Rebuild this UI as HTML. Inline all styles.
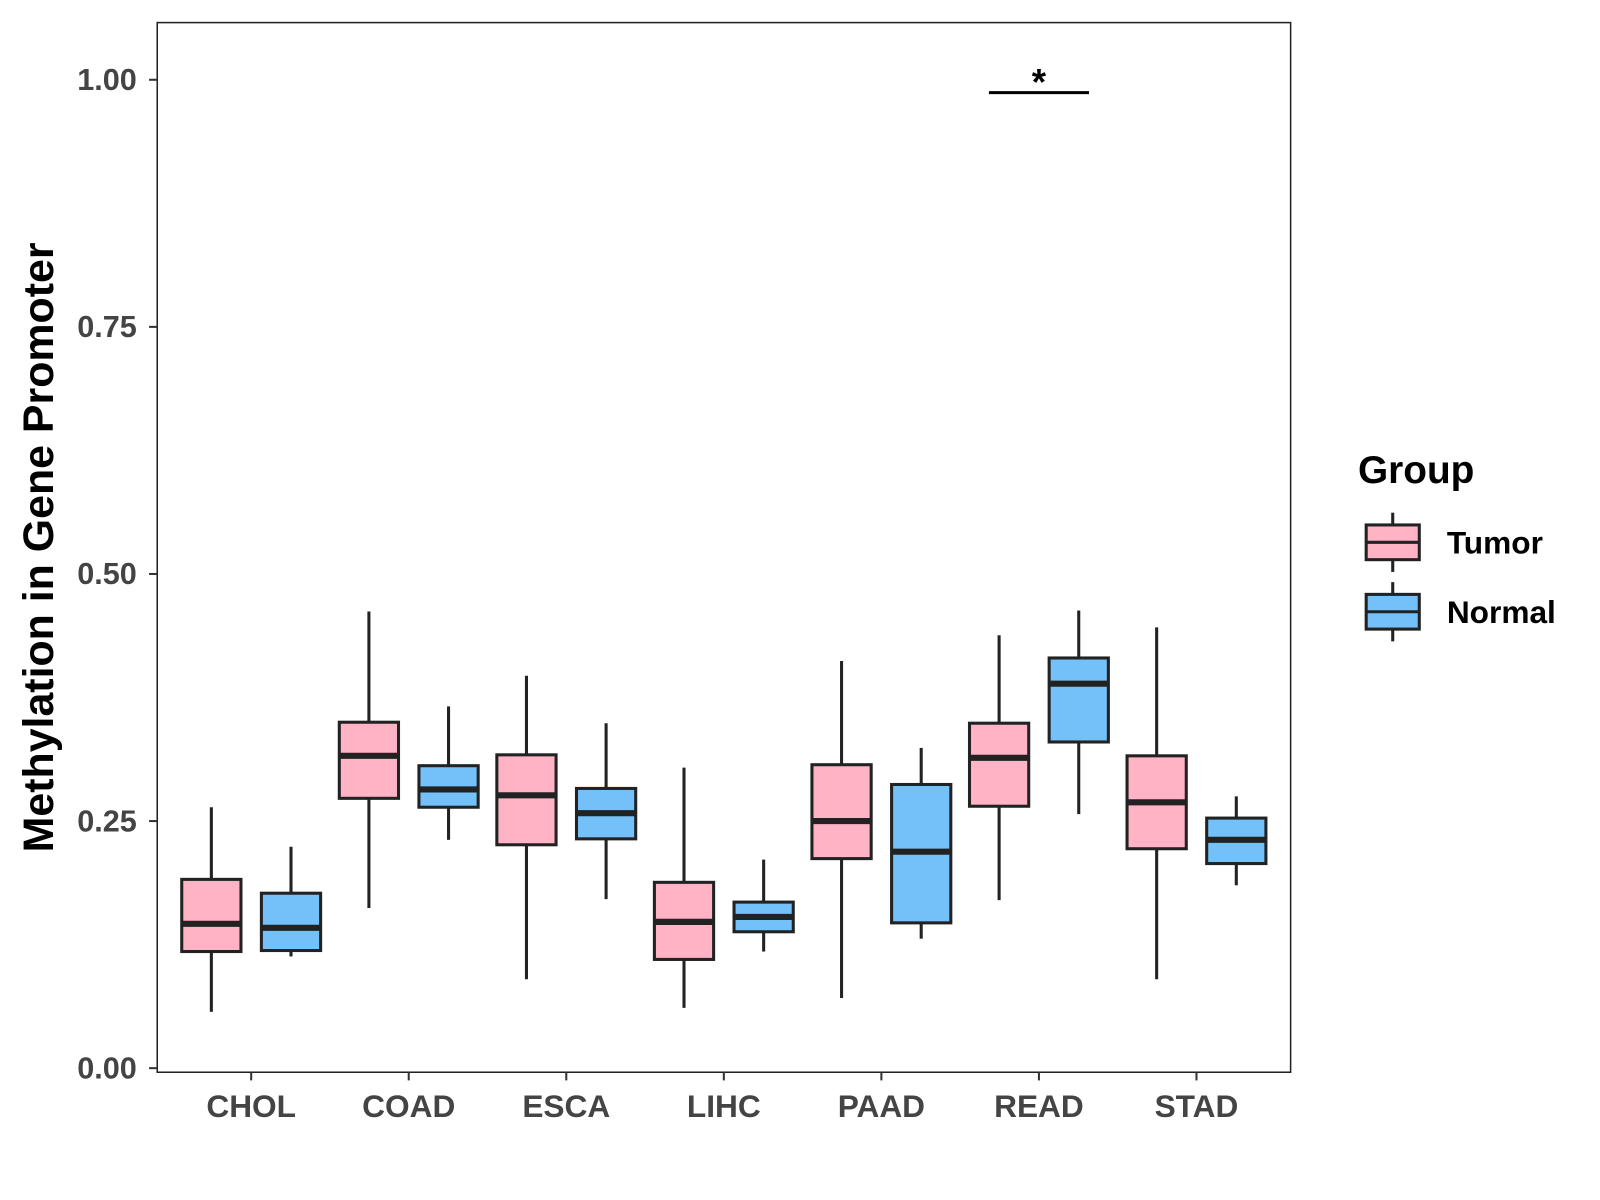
<!DOCTYPE html>
<html><head><meta charset="utf-8"><style>
html,body{margin:0;padding:0;background:#fff}
svg{display:block;font-family:"Liberation Sans",Arial,sans-serif}
</style></head><body>
<svg id="chart" width="1600" height="1200" viewBox="0 0 1567 1175"></svg>
<script>
const categories=["CHOL","COAD","ESCA","LIHC","PAAD","READ","STAD"];
const tumorMin=[0.057,0.162,0.090,0.061,0.071,0.170,0.090];
const tumorQ1=[0.118,0.273,0.226,0.110,0.212,0.265,0.222];
const tumorMed=[0.146,0.316,0.276,0.148,0.250,0.314,0.269];
const tumorQ3=[0.191,0.350,0.317,0.188,0.307,0.349,0.316];
const tumorMax=[0.264,0.462,0.397,0.304,0.412,0.438,0.446];
const normalMin=[0.113,0.231,0.171,0.118,0.131,0.257,0.185];
const normalQ1=[0.119,0.264,0.232,0.138,0.147,0.330,0.207];
const normalMed=[0.142,0.282,0.258,0.153,0.219,0.389,0.231];
const normalQ3=[0.177,0.306,0.283,0.168,0.287,0.415,0.253];
const normalMax=[0.224,0.366,0.349,0.211,0.324,0.463,0.275];
const yTicks=[0,0.25,0.5,0.75,1.0];
const yTickLabels=["0.00","0.25","0.50","0.75","1.00"];
const sigCategory="READ";const sigValue=0.987;const sigLabel="*";

const NS="http://www.w3.org/2000/svg";
const svg=document.getElementById('chart');
const L=154,R=1264,T=22,B=1050;
const y=v=>1046-v*968;
const xc=i=>246+i*154.3;
function el(tag,attrs,parent){const e=document.createElementNS(NS,tag);for(const k in attrs)e.setAttribute(k,attrs[k]);(parent||svg).appendChild(e);return e;}
function txt(s,attrs){const e=el('text',attrs);e.textContent=s;return e;}

const panel=el('rect',{x:L,y:T,width:R-L,height:B-T,fill:'#fff',stroke:'#222','stroke-width':1.5});



yTicks.forEach((v,i)=>{
  const t=el('line',{x1:146,x2:154,y1:y(v),y2:y(v),stroke:'#333','stroke-width':2});
  
  
  const l=txt(yTickLabels[i],{x:134,y:y(v)+10,'text-anchor':'end','font-size':30,'font-weight':'bold',fill:'#444'});
  
  
});
categories.forEach((c,i)=>{
  const t=el('line',{x1:xc(i),x2:xc(i),y1:1050,y2:1058,stroke:'#333','stroke-width':2});
  
  
  const l=txt(c,{x:xc(i),y:1094,'text-anchor':'middle','font-size':31,'font-weight':'bold',fill:'#444'});
  
  
});
const yt=txt("Methylation in Gene Promoter",{x:0,y:0,transform:'translate(52,536) rotate(-90)','text-anchor':'middle','font-size':42,'font-weight':'bold',fill:'#000'});



function box(cx,mn,q1,md,q3,mx,fill,name){
  const g=el('g',{});
  
  
  el('line',{x1:cx,x2:cx,y1:y(mx),y2:y(q3),stroke:'#222','stroke-width':3},g);
  el('line',{x1:cx,x2:cx,y1:y(q1),y2:y(mn),stroke:'#222','stroke-width':3},g);
  el('rect',{x:cx-29,y:y(q3),width:58,height:y(q1)-y(q3),fill:fill,stroke:'#222','stroke-width':3},g);
  el('line',{x1:cx-29,x2:cx+29,y1:y(md),y2:y(md),stroke:'#222','stroke-width':6},g);
}
categories.forEach((c,i)=>{
  box(xc(i)-39,tumorMin[i],tumorQ1[i],tumorMed[i],tumorQ3[i],tumorMax[i],'#FFB3C5','box-tumor-'+c.toLowerCase());
  box(xc(i)+39,normalMin[i],normalQ1[i],normalMed[i],normalQ3[i],normalMax[i],'#74C1F9','box-normal-'+c.toLowerCase());
});
const si=categories.indexOf(sigCategory);
const sl=el('line',{x1:xc(si)-49,x2:xc(si)+49,y1:y(sigValue),y2:y(sigValue),stroke:'#000','stroke-width':3});


const st=txt(sigLabel,{x:xc(si),y:y(sigValue)+2,'text-anchor':'middle','font-size':36,'font-weight':'bold'});



const lt=txt("Group",{x:1330,y:473,'font-size':38,'font-weight':'bold'});


[["Tumor",'#FFB3C5',531],["Normal",'#74C1F9',599]].forEach(([n,f,cy])=>{
  const g=el('g',{});
  
  
  el('line',{x1:1364,x2:1364,y1:cy-29,y2:cy+29,stroke:'#222','stroke-width':3},g);
  el('rect',{x:1338,y:cy-17,width:52,height:34,fill:f,stroke:'#222','stroke-width':3},g);
  el('line',{x1:1338,x2:1390,y1:cy,y2:cy,stroke:'#222','stroke-width':3},g);
  const t=el('text',{x:1417,y:cy+11,'font-size':31,'font-weight':'bold'},g);t.textContent=n;
});
</script>
</body></html>
